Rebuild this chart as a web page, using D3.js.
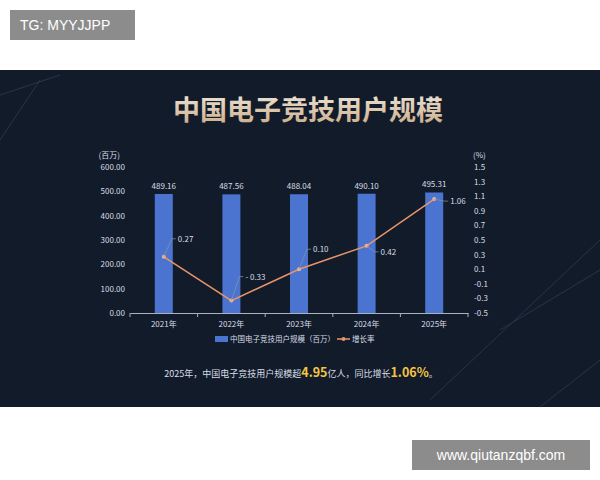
<!DOCTYPE html>
<html><head><meta charset="utf-8">
<script src="https://cdn.jsdelivr.net/npm/d3@7"></script>
<style>body{margin:0;background:#fff;font-family:"Noto Sans CJK SC","Noto Sans",sans-serif}</style>
</head><body>
<svg id="c" width="600" height="480"></svg>
<script>
const years = ["2021年","2022年","2023年","2024年","2025年"];
const users = [489.16, 487.56, 488.04, 490.10, 495.31];
const growth = [0.27, -0.33, 0.10, 0.42, 1.06];
const growthLabels = ["0.27","- 0.33","0.10","0.42","1.06"];
const leftTicks = [0,100,200,300,400,500,600];
const rightTicks = [-0.5,-0.3,-0.1,0.1,0.3,0.5,0.7,0.9,1.1,1.3,1.5];

const svg = d3.select("#c");
const F = '"Noto Sans CJK SC",sans-serif';

// page decorations
svg.append("rect").attr("x",10).attr("y",10).attr("width",125).attr("height",30).attr("fill","#8c8c8c");
svg.append("text").attr("x",20).attr("y",30).attr("fill","#fff").attr("font-size",14).attr("font-family","Liberation Sans").text("TG: MYYJJPP");
svg.append("rect").attr("x",0).attr("y",70).attr("width",600).attr("height",337).attr("fill","#121b2a");
// faint background lines
const bg = svg.append("g").attr("stroke","#2a3446").attr("fill","none").attr("stroke-width",1);
bg.append("path").attr("d","M0,95 L60,75 M0,140 L40,80 M430,400 L600,240 M500,330 L600,270 M540,407 L600,360");
svg.append("rect").attr("x",412).attr("y",440).attr("width",178).attr("height",30).attr("fill","#8c8c8c");
svg.append("text").attr("x",501).attr("y",460).attr("text-anchor","middle").attr("fill","#fff").attr("font-size",14).attr("font-family","Liberation Sans").text("www.qiutanzqbf.com");

const defs = svg.append("defs");
const lg = defs.append("linearGradient").attr("id","tg").attr("x1",0).attr("y1",0).attr("x2",0).attr("y2",1);
lg.append("stop").attr("offset","0").attr("stop-color","#f2ebe0");
lg.append("stop").attr("offset","1").attr("stop-color","#c9a883");
svg.append("text").attr("x",308).attr("y",120).attr("text-anchor","middle").attr("font-size",27).attr("font-weight","bold")
  .attr("font-family",F).attr("fill","url(#tg)").text("中国电子竞技用户规模");

const L=130, R=468, T=167, B=313;
const x = d3.scaleBand().domain(years).range([L,R]);
const y = d3.scaleLinear().domain([0,600]).range([B,T]);
const y2 = d3.scaleLinear().domain([-0.5,1.5]).range([B,T]);
const txt = "#d8dde6";

const gl = svg.append("g").attr("transform",`translate(${L},0)`)
  .call(d3.axisLeft(y).tickValues(leftTicks).tickFormat(d3.format(".2f")).tickSize(0).tickPadding(5));
gl.select(".domain").remove();
const gr = svg.append("g").attr("transform",`translate(${R},0)`)
  .call(d3.axisRight(y2).tickValues(rightTicks).tickFormat(d=>d3.format(".1f")(d).replace("−","-")).tickSize(0).tickPadding(6));
gr.select(".domain").remove();
const gx = svg.append("g").attr("transform",`translate(0,${B})`)
  .call(d3.axisBottom(x).tickSize(0).tickPadding(8));
gx.select(".domain").attr("stroke","#aab2c0");
gx.selectAll(".tk").data(d3.range(years.length+1)).enter().append("line")
  .attr("x1",i=>L+i*x.step()).attr("x2",i=>L+i*x.step()).attr("y1",0).attr("y2",4).attr("stroke","#aab2c0");
svg.selectAll(".tick text").attr("fill",txt).attr("font-size",8).attr("font-family",F);
svg.append("text").attr("x",L-10).attr("y",158).attr("text-anchor","end").attr("fill",txt).attr("font-size",8).attr("font-family",F).text("(百万)");
svg.append("text").attr("x",R+5).attr("y",158).attr("fill",txt).attr("font-size",8).attr("font-family",F).text("(%)");

const bw = 18;
svg.selectAll(".bar").data(users).enter().append("rect")
  .attr("x",(d,i)=>x(years[i])+x.bandwidth()/2-bw/2).attr("y",d=>y(d))
  .attr("width",bw).attr("height",d=>B-y(d)).attr("fill","#4a74cf");
svg.selectAll(".bl").data(users).enter().append("text")
  .attr("x",(d,i)=>x(years[i])+x.bandwidth()/2).attr("y",d=>y(d)-5).attr("text-anchor","middle")
  .attr("fill",txt).attr("font-size",8).attr("font-family",F).text(d=>d.toFixed(2));

const cx = i=>x(years[i])+x.bandwidth()/2;
svg.append("path").datum(growth).attr("fill","none").attr("stroke","#e8956a").attr("stroke-width",1.5)
  .attr("d",d3.line().x((d,i)=>cx(i)).y(d=>y2(d)));
svg.selectAll(".pt").data(growth).enter().append("circle").attr("cx",(d,i)=>cx(i)).attr("cy",d=>y2(d)).attr("r",2)
  .attr("fill","#f0b090");
// leader lines + labels
const off = [[12,-18],[12,-24],[12,-20],[12,6],[14,2]];
growth.forEach((d,i)=>{
  const px=cx(i), py=y2(d), [dx,dy]=off[i];
  svg.append("path").attr("d",`M${px},${py} L${px+dx-4},${py+dy} L${px+dx},${py+dy}`).attr("fill","none").attr("stroke","#8a96ab").attr("stroke-width",0.7);
  svg.append("text").attr("x",px+dx+2).attr("y",py+dy+3).attr("fill",txt).attr("font-size",8).attr("font-family",F).text(growthLabels[i]);
});

// legend
const lgd = svg.append("g").attr("font-family",F).attr("font-size",7.5).attr("fill",txt);
lgd.append("rect").attr("x",215).attr("y",336).attr("width",13).attr("height",6).attr("fill","#4a74cf");
lgd.append("text").attr("x",230).attr("y",342).text("中国电子竞技用户规模（百万）");
lgd.append("line").attr("x1",337).attr("x2",350).attr("y1",339).attr("y2",339).attr("stroke","#e8956a").attr("stroke-width",1.5);
lgd.append("circle").attr("cx",343.5).attr("cy",339).attr("r",2).attr("fill","#e8956a");
lgd.append("text").attr("x",352).attr("y",342).text("增长率");

const cap = svg.append("text").attr("x",301).attr("y",377).attr("text-anchor","middle").attr("font-family",F).attr("font-size",9).attr("fill",txt);
cap.append("tspan").text("2025年，中国电子竞技用户规模超");
cap.append("tspan").attr("fill","#f5c542").attr("font-size",12.5).attr("font-weight","bold").text("4.95");
cap.append("tspan").text("亿人，同比增长");
cap.append("tspan").attr("fill","#f5c542").attr("font-size",12.5).attr("font-weight","bold").text("1.06%");
cap.append("tspan").text("。");
</script>
</body></html>
